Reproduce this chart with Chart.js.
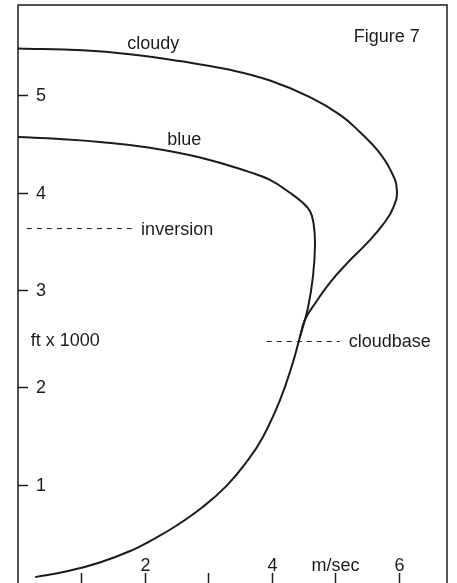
<!DOCTYPE html>
<html>
<head>
<meta charset="utf-8">
<script src="https://cdn.jsdelivr.net/npm/chart.js@4/dist/chart.umd.min.js"></script>
<style>
  html, body { margin: 0; padding: 0; background: #fff; }
  #wrap { width: 457px; height: 583px; }
</style>
</head>
<body>
<div id="wrap"><canvas id="c" width="457" height="583"></canvas></div>
<script>
// Wind speed (m/sec) against height (ft x 1000)
const blueSpeed  = [0.27, 0.77, 1.29, 1.81, 2.08, 2.50, 2.91, 3.29, 3.61, 3.86, 4.13, 4.33, 4.44, 4.57, 4.65, 4.68, 4.66, 4.60, 4.46, 4.28, 3.97, 3.65, 2.87, 2.08, 1.29, 0.66, 0.00];
const blueHeight = [0.05, 0.11, 0.20, 0.33, 0.42, 0.58, 0.77, 0.99, 1.24, 1.49, 1.87, 2.25, 2.51, 2.82, 3.15, 3.46, 3.67, 3.81, 3.91, 4.00, 4.13, 4.21, 4.36, 4.46, 4.52, 4.55, 4.57];

const cloudySpeed  = [4.44, 4.52, 4.68, 4.91, 5.18, 5.50, 5.75, 5.91, 5.97, 5.87, 5.67, 5.39, 5.07, 4.60, 3.97, 3.34, 2.55, 1.76, 1.02, 0.00];
const cloudyHeight = [2.51, 2.69, 2.86, 3.07, 3.27, 3.48, 3.67, 3.84, 4.03, 4.23, 4.43, 4.62, 4.80, 4.98, 5.15, 5.26, 5.35, 5.42, 5.46, 5.48];

// Reference levels
const inversionHeight = 3.63;
const inversionSpan   = [0.14, 1.84];
const cloudbaseHeight = 2.47;
const cloudbaseSpan   = [3.92, 5.07];

// Axis ticks
const yTicks = [1, 2, 3, 4, 5];
const yTickLabels = ['1', '2', '3', '4', '5'];
const xTicks = [1, 2, 3, 4, 5, 6];
const xTickLabels = ['', '2', '', '4', 'm/sec', '6'];

// Text placed in data coordinates
const notes = [
  { text: 'cloudy',     x: 1.72, y: 5.54, align: 'left' },
  { text: 'blue',       x: 2.35, y: 4.55, align: 'left' },
  { text: 'inversion',  x: 1.94, y: inversionHeight, align: 'left' },
  { text: 'cloudbase',  x: 5.21, y: cloudbaseHeight, align: 'left' },
  { text: 'ft x 1000',  x: 0.20, y: 2.49, align: 'left' },
  { text: 'Figure 7',   x: 5.29, y: 5.61, align: 'left' }
];

const toPoints = (xs, ys) => xs.map((v, i) => ({ x: v, y: ys[i] }));

const INK = '#1c1c1c';
const FONT = '18px "Liberation Sans", Arial, sans-serif';

const framePlugin = {
  id: 'frame',
  afterDraw(chart) {
    const { ctx, chartArea: a, scales: { x, y } } = chart;
    ctx.save();
    // frame: left, top, right
    ctx.strokeStyle = INK;
    ctx.lineWidth = 1.5;
    ctx.beginPath();
    ctx.moveTo(a.left, a.bottom + 2);
    ctx.lineTo(a.left, a.top);
    ctx.lineTo(a.right, a.top);
    ctx.lineTo(a.right, a.bottom + 2);
    ctx.stroke();

    ctx.fillStyle = INK;
    ctx.font = FONT;
    ctx.textBaseline = 'middle';

    // y ticks pointing inward with labels
    ctx.lineWidth = 1.5;
    yTicks.forEach((v, i) => {
      const py = Math.round(y.getPixelForValue(v)) + 0.5;
      ctx.beginPath();
      ctx.moveTo(a.left, py);
      ctx.lineTo(a.left + 10, py);
      ctx.stroke();
      ctx.textAlign = 'left';
      ctx.fillText(yTickLabels[i], a.left + 18, py + 1);
    });

    // x ticks pointing up from the bottom with labels
    xTicks.forEach((v, i) => {
      const px = Math.round(x.getPixelForValue(v)) + 0.5;
      ctx.beginPath();
      ctx.moveTo(px, a.bottom + 2);
      ctx.lineTo(px, a.bottom - 9);
      ctx.stroke();
      if (xTickLabels[i]) {
        ctx.textAlign = 'center';
        ctx.fillText(xTickLabels[i], px, a.bottom - 16);
      }
    });

    // notes
    notes.forEach(n => {
      ctx.textAlign = n.align;
      ctx.fillText(n.text, x.getPixelForValue(n.x), y.getPixelForValue(n.y) + 1);
    });
    ctx.restore();
  }
};

new Chart(document.getElementById('c'), {
  type: 'scatter',
  data: {
    datasets: [
      {
        label: 'blue',
        data: toPoints(blueSpeed, blueHeight),
        showLine: true,
        borderColor: INK,
        borderWidth: 2,
        pointRadius: 0,
        tension: 0.45
      },
      {
        label: 'cloudy',
        data: toPoints(cloudySpeed, cloudyHeight),
        showLine: true,
        borderColor: INK,
        borderWidth: 2,
        pointRadius: 0,
        tension: 0.45
      },
      {
        label: 'inversion',
        data: toPoints(inversionSpan, [inversionHeight, inversionHeight]),
        showLine: true,
        borderColor: INK,
        borderWidth: 1,
        borderDash: [5, 5],
        pointRadius: 0
      },
      {
        label: 'cloudbase',
        data: toPoints(cloudbaseSpan, [cloudbaseHeight, cloudbaseHeight]),
        showLine: true,
        borderColor: INK,
        borderWidth: 1,
        borderDash: [5, 5],
        pointRadius: 0
      }
    ]
  },
  options: {
    responsive: false,
    animation: false,
    layout: { padding: { left: 18, right: 10, top: 5, bottom: 1 } },
    plugins: { legend: { display: false }, tooltip: { enabled: false } },
    scales: {
      x: { type: 'linear', min: 0, max: 6.76, display: false },
      y: { type: 'linear', min: 0, max: 5.926, display: false }
    }
  },
  plugins: [framePlugin]
});
</script>
</body>
</html>
